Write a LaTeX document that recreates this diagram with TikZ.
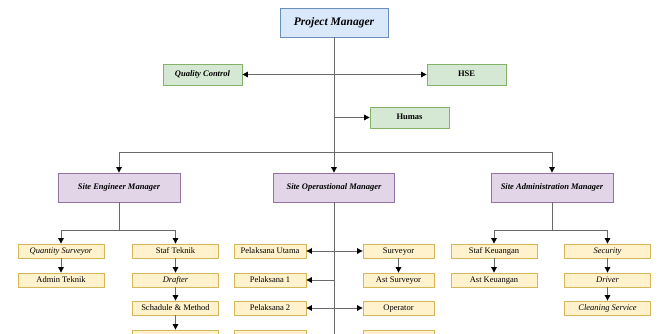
\documentclass[tikz,border=0pt]{standalone}
\usepackage{fontspec}
\setmainfont{Liberation Serif}
\usetikzlibrary{arrows.meta}
\definecolor{bluef}{HTML}{DAE8FC}\definecolor{blued}{HTML}{6C8EBF}
\definecolor{greenf}{HTML}{D5E8D4}\definecolor{greend}{HTML}{82B366}
\definecolor{purf}{HTML}{E1D5E7}\definecolor{purd}{HTML}{9673A6}
\definecolor{yelf}{HTML}{FFF2CC}\definecolor{yeld}{HTML}{D6B656}
\definecolor{linec}{HTML}{6A6A6A}
\tikzset{
  boxbase/.style={rectangle, inner sep=0pt, line width=0.8pt, text height=6pt, text depth=1.8pt},
  pmbox/.style={boxbase, fill=bluef, draw=blued, minimum width=108, minimum height=29, text height=8pt, text depth=2.5pt, font=\fontsize{11.5}{12}\selectfont\bfseries\itshape},
  grbox/.style={boxbase, fill=greenf, draw=greend, minimum width=79, minimum height=21, font=\fontsize{8.5}{9}\selectfont\bfseries},
  pubox/.style={boxbase, fill=purf, draw=purd, minimum width=122, minimum height=29, font=\fontsize{8.5}{9}\selectfont\bfseries\itshape},
  yebox/.style={boxbase, fill=yelf, draw=yeld, minimum width=86, minimum height=14, font=\fontsize{8.5}{9}\selectfont},
  itbox/.style={yebox, font=\fontsize{8.5}{9}\selectfont\itshape},
  conn/.style={draw=linec, line width=0.9pt},
  tip/.style={},
  arr/.style={conn, -{Triangle[length=5.5pt,width=5.5pt,fill=black,color=black]}},
  darr/.style={conn, {Triangle[length=5.5pt,width=5.5pt,fill=black,color=black]}-{Triangle[length=5.5pt,width=5.5pt,fill=black,color=black]}},
}
\begin{document}
\begin{tikzpicture}[x=1pt,y=-1pt]
\useasboundingbox (0,0) rectangle (658,334);
\clip (0,0) rectangle (658,334);
% top level
\node[pmbox] (pm) at (334,22.5) {Project Manager};
\node[grbox, font=\fontsize{8.5}{9}\selectfont\bfseries\itshape] (qc) at (202.5,74.5) {Quality Control};
\node[grbox] (hse) at (466.5,74.5) {HSE};
\node[grbox] (hum) at (409.5,117.5) {Humas};
\node[pubox] (sem) at (119,187.5) {Site Engineer Manager};
\node[pubox, minimum width=121] (som) at (334,187.5) {Site Operastional Manager};
\node[pubox] (sam) at (552,187.5) {Site Administration Manager};
% SEM children
\node[itbox] (qs) at (61,251) {Quantity Surveyor};
\node[yebox] (adm) at (61,280) {Admin Teknik};
\node[yebox] (stt) at (175.5,251) {Staf Teknik};
\node[itbox] (dra) at (175.5,280) {Drafter};
\node[yebox] (sch) at (175.5,308) {Schadule \& Method};
\node[yebox] (b1) at (175.5,337) {};
% SOM children
\node[yebox, minimum width=72] (pu) at (270,251) {Pelaksana Utama};
\node[yebox, minimum width=72] (p1) at (270,280) {Pelaksana 1};
\node[yebox, minimum width=72] (p2) at (270,308) {Pelaksana 2};
\node[yebox, minimum width=72] (b2) at (270,337) {};
\node[yebox, minimum width=71] (sur) at (398.5,251) {Surveyor};
\node[yebox, minimum width=71] (asur) at (398.5,280) {Ast Surveyor};
\node[yebox, minimum width=71] (ope) at (398.5,308) {Operator};
\node[yebox, minimum width=71] (b3) at (398.5,337) {};
% SAM children
\node[yebox] (sk) at (494,251) {Staf Keuangan};
\node[yebox] (ak) at (494,280) {Ast Keuangan};
\node[itbox] (sec) at (607.5,251) {Security};
\node[itbox] (drv) at (607.5,280) {Driver};
\node[itbox] (cs) at (607.5,308) {Cleaning Service};
% coordinates
\coordinate (bot) at (334,345);
\coordinate (hbar) at (334,152);
\coordinate (semj) at (119,230);
\coordinate (samj) at (552,230);
% main trunk
\draw[arr] (pm.south) -- (som.north);
\draw[conn] (som.south) -- (bot);
\draw[arr] (pm.south |- qc.east) -- (qc.east);
\draw[arr] (pm.south |- hse.west) -- (hse.west);
\draw[arr] (pm.south |- hum.west) -- (hum.west);
\draw[arr] (hbar) -| (sem.north);
\draw[arr] (hbar) -| (sam.north);
% SEM branch
\draw[conn] (sem.south) -- (semj);
\draw[arr] (semj) -| (qs.north);
\draw[arr] (semj) -| (stt.north);
\draw[arr] (qs.south) -- (adm.north);
\draw[arr] (stt.south) -- (dra.north);
\draw[arr] (dra.south) -- (sch.north);
\draw[arr] (sch.south) -- (b1.north);
% SOM branch
\draw[darr] (pu.east) -- (sur.west);
\draw[arr] (pm.south |- p1.east) -- (p1.east);
\draw[darr] (p2.east) -- (ope.west);
\draw[darr] (b2.east) -- (b3.west);
\draw[arr] (sur.south) -- (asur.north);
% SAM branch
\draw[conn] (sam.south) -- (samj);
\draw[arr] (samj) -| (sk.north);
\draw[arr] (samj) -| (sec.north);
\draw[arr] (sk.south) -- (ak.north);
\draw[arr] (sec.south) -- (drv.north);
\draw[arr] (drv.south) -- (cs.north);
\end{tikzpicture}
\end{document}
